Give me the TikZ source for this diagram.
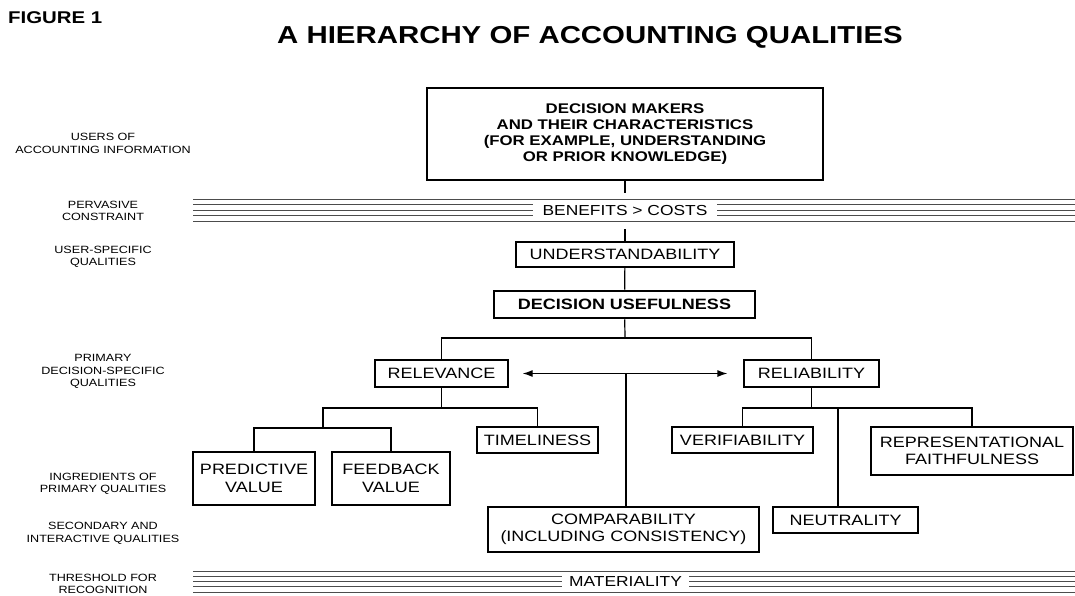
\documentclass[tikz,border=0pt]{standalone}
\usepackage{fontspec}
\setmainfont{Liberation Sans}[FakeStretch=1.2]
\usepackage{tikz}
\usetikzlibrary{arrows.meta}
\tikzstyle{Quality}=[draw=black, line width=1.2pt, fill=white, align=center, inner sep=0pt, font=\fontsize{15}{17.5}\selectfont]
\tikzstyle{KeyQuality}=[Quality, line width=2.8pt, font=\bfseries\fontsize{15}{17.5}\selectfont]
\tikzstyle{Level}=[align=center, inner sep=0pt, font=\fontsize{10.5}{12.5}\selectfont]
\tikzstyle{Constraint}=[inner sep=0pt, font=\fontsize{14.5}{17}\selectfont]
\tikzstyle{branch}=[line width=1.2pt]
\tikzstyle{band}=[line width=0.8pt, draw=black!70]
\pgfdeclarelayer{nodelayer}
\pgfdeclarelayer{edgelayer}
\pgfsetlayers{nodelayer, edgelayer, main}

\begin{document}
\begin{tikzpicture}[x=1pt, y=-1pt]
	\useasboundingbox (0, 0) rectangle (1075, 595);
	\begin{pgfonlayer}{nodelayer}
		\node [anchor=west, inner sep=0pt, font=\bfseries\fontsize{17}{20}\selectfont] (figlabel) at (8, 18) {FIGURE 1};
		\node [inner sep=0pt, font=\bfseries\fontsize{24.5}{28}\selectfont] (title) at (590, 37.5) {A HIERARCHY OF ACCOUNTING QUALITIES};
		% levels on the left
		\node [style=Level] (users) at (103, 143.5) {USERS OF\\ACCOUNTING INFORMATION};
		\node [style=Level] (pervasive) at (103, 211) {PERVASIVE\\CONSTRAINT};
		\node [style=Level] (userspecific) at (103, 257) {USER-SPECIFIC\\QUALITIES};
		\node [style=Level] (primary) at (103, 371.5) {PRIMARY\\DECISION-SPECIFIC\\QUALITIES};
		\node [style=Level] (ingredients) at (103, 484) {INGREDIENTS OF\\PRIMARY QUALITIES};
		\node [style=Level] (secondary) at (103, 533.5) {SECONDARY AND\\INTERACTIVE QUALITIES};
		\node [style=Level] (threshold) at (103, 584) {THRESHOLD FOR\\RECOGNITION};
		% qualities
		\node [style=KeyQuality, minimum width=396pt, minimum height=92pt, font=\bfseries\fontsize{14}{16}\selectfont] (makers) at (625, 134) {DECISION MAKERS\\AND THEIR CHARACTERISTICS\\(FOR EXAMPLE, UNDERSTANDING\\OR PRIOR KNOWLEDGE)};
		\node [style=Constraint, minimum width=184pt, minimum height=36pt] (benefits) at (625, 211) {BENEFITS > COSTS};
		\node [style=Quality, minimum width=218pt, minimum height=25pt] (understand) at (625, 254.5) {UNDERSTANDABILITY};
		\node [style=KeyQuality, minimum width=261pt, minimum height=27pt] (usefulness) at (624.5, 304.5) {DECISION USEFULNESS};
		\node [style=Quality, minimum width=133pt, minimum height=27pt] (relevance) at (441.5, 373.5) {RELEVANCE};
		\node [style=Quality, minimum width=135pt, minimum height=27pt] (reliability) at (811.5, 373.5) {RELIABILITY};
		\node [style=Quality, minimum width=122pt, minimum height=53pt] (predictive) at (254, 478.5) {PREDICTIVE\\VALUE};
		\node [style=Quality, minimum width=118pt, minimum height=53pt] (feedback) at (391, 478.5) {FEEDBACK\\VALUE};
		\node [style=Quality, minimum width=121pt, minimum height=26pt] (timeliness) at (537.5, 440) {TIMELINESS};
		\node [style=Quality, minimum width=141pt, minimum height=26pt] (verifiability) at (742.5, 440) {VERIFIABILITY};
		\node [style=Quality, minimum width=202pt, minimum height=48pt] (faithfulness) at (972, 451) {REPRESENTATIONAL\\FAITHFULNESS};
		\node [style=Quality, minimum width=271pt, minimum height=45pt] (comparability) at (623.5, 529.5) {COMPARABILITY\\(INCLUDING CONSISTENCY)};
		\node [style=Quality, minimum width=145pt, minimum height=26pt] (neutrality) at (845.5, 520) {NEUTRALITY};
		\node [style=Constraint, minimum width=127pt] (materiality) at (625.5, 581.5) {MATERIALITY};
		\coordinate (topfork) at (625, 338);
		\coordinate (relfork) at (441.5, 408);
		\coordinate (valuefork) at (323, 428);
		\coordinate (relyfork) at (811.5, 408);
		\coordinate (neutralfork) at (838, 408);
		\coordinate (tradeoff) at (626, 373.5);
	\end{pgfonlayer}
	\begin{pgfonlayer}{edgelayer}
		% bands
		\draw [style=band] (193, 199) -- (1075, 199);
		\draw [style=band] (193, 221) -- (1075, 221);
		\foreach \y in {204.5, 210, 215.5} {
			\draw [style=band] (193, \y) -- (benefits.west |- 0, \y);
			\draw [style=band] (benefits.east |- 0, \y) -- (1075, \y);
		}
		\draw [style=band] (193, 571) -- (1075, 571);
		\draw [style=band] (193, 592) -- (1075, 592);
		\foreach \y in {576.25, 581.5, 586.75} {
			\draw [style=band] (193, \y) -- (materiality.west |- 0, \y);
			\draw [style=band] (materiality.east |- 0, \y) -- (1075, \y);
		}
		% tree
		\draw [style=branch] (makers) -- (benefits);
		\draw [style=branch] (benefits) -- (understand);
		\draw [style=branch] (understand) -- (usefulness);
		\draw [style=branch] (usefulness) -- (topfork);
		\draw [style=branch] (relevance.north) |- (topfork) -| (reliability.north);
		\draw [style=branch] (relevance) -- (relfork);
		\draw [style=branch] (valuefork) |- (relfork) -| (timeliness.north);
		\draw [style=branch] (predictive.north) |- (valuefork) -| (feedback.north);
		\draw [style=branch] (reliability) -- (relyfork);
		\draw [style=branch] (verifiability.north) |- (relyfork) -| (faithfulness.north);
		\draw [style=branch] (neutralfork) -- (neutralfork |- neutrality.north);
		\draw [<->, style=branch, >={Latex[length=10pt, width=7pt]}, shorten <=14pt, shorten >=16pt] (relevance) -- (reliability);
		\draw [style=branch] (tradeoff) -- (tradeoff |- comparability.north);
	\end{pgfonlayer}
\end{tikzpicture}
\end{document}
